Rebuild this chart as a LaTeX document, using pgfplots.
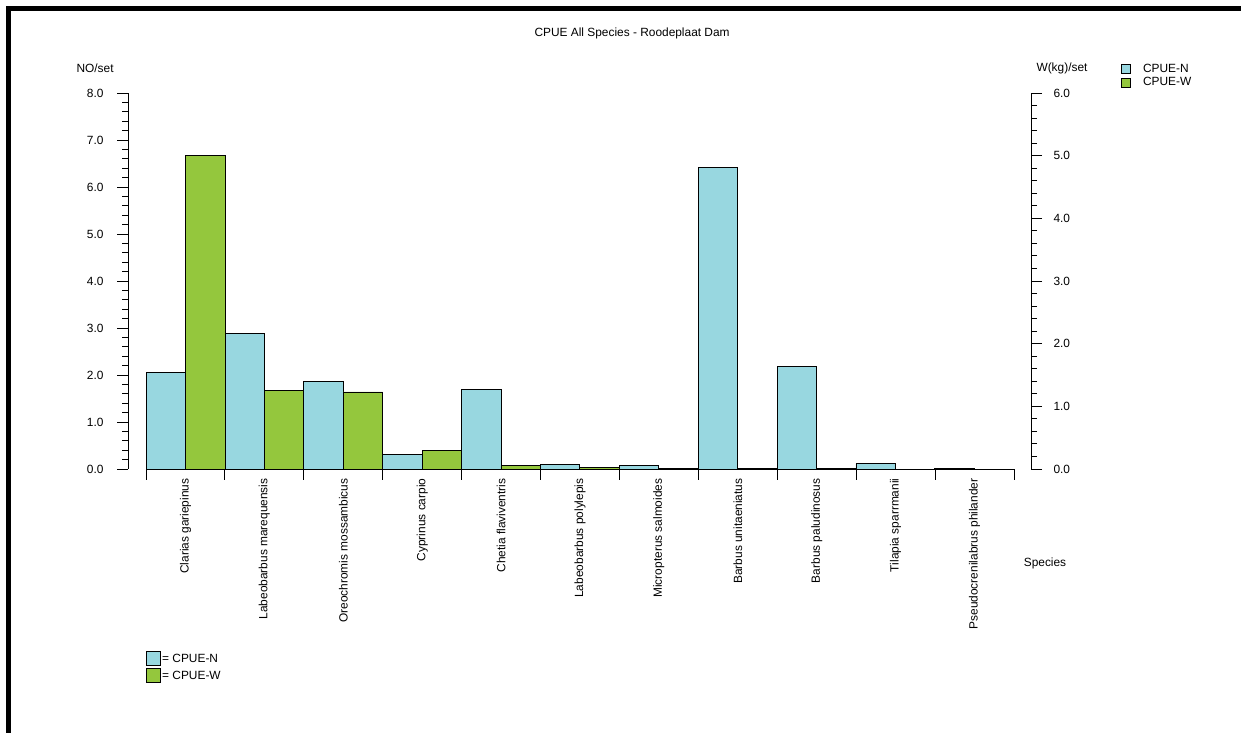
\documentclass[border=0pt]{standalone}
\usepackage{pgfplots}
\pgfplotsset{compat=1.18}
\usepackage{fontspec}
\setmainfont{Liberation Sans}
\definecolor{cpueN}{RGB}{152,215,224}
\definecolor{cpueW}{RGB}{148,199,61}
\pgfplotsset{
  myax/.style={scale only axis, height=376pt, ymin=0,
    tick align=outside, major tick length=11pt, minor tick length=6pt,
    every tick/.style={black, line width=0.9pt},
    axis line style={black, line width=0.9pt},
    /pgf/number format/assume math mode=true,
    yticklabel style={/pgf/number format/.cd, fixed, fixed zerofill, precision=1},
    minor y tick num=4},
  smallsq/.style={legend image code/.code={\draw[##1, draw=black, line width=0.8pt] (0pt,-4.5pt) rectangle (9pt,4.5pt);}},
  bigsq/.style={legend image code/.code={\draw[##1, draw=black, line width=1pt] (0pt,-7pt) rectangle (14pt,7pt);}},
}
\begin{document}
\begin{tikzpicture}[x=1pt,y=1pt,font=\fontsize{11.9}{13.5}\selectfont]
\useasboundingbox (0,0) rectangle (1241,733);
\fill[black] (6,722) rectangle (1241,727);
\fill[black] (6,0) rectangle (11,727);

% left axis: CPUE-N
\begin{axis}[myax, at={(128pt,264pt)}, anchor=south west, width=903pt,
  xmin=-0.2284, xmax=11.2195, ymax=8,
  axis y line*=left, hide x axis,
  ytick={0,1,2,3,4,5,6,7,8},
  yticklabel shift=10pt,
  ylabel={NO/set},
  ylabel style={at={(axis description cs:-0.0365,1.0665)}, rotate=-90, anchor=center},
  legend style={at={(axis description cs:1.0997,1.081)}, anchor=north west,
    draw=none, fill=none, inner sep=0pt, row sep=2pt, column sep=11pt,
    nodes={inner sep=1pt}},
  legend cell align=left]
\addplot[ybar, bar width=0.5, bar shift=0pt, fill=cpueN, draw=black, line width=0.8pt, forget plot]
  coordinates {(0.25,2.06) (1.25,2.89) (2.25,1.87) (3.25,0.30) (4.25,1.70)
               (5.25,0.10) (6.25,0.08) (7.25,6.41) (8.25,2.19) (9.25,0.12) (10.25,0.02)};
\addlegendimage{smallsq, fill=cpueN}
\addlegendimage{smallsq, fill=cpueW}
\legend{CPUE-N, CPUE-W}
\end{axis}

% right axis: CPUE-W
\begin{axis}[myax, at={(128pt,264pt)}, anchor=south west, width=903pt,
  xmin=-0.2284, xmax=11.2195, ymax=6,
  axis y line*=right, hide x axis,
  ytick={0,1,2,3,4,5,6},
  yticklabel shift=8pt,
  ylabel={W(kg)/set},
  ylabel style={at={(axis description cs:1.0343,1.0665)}, rotate=-90, anchor=center}]
\addplot[ybar, bar width=0.5, bar shift=0pt, fill=cpueW, draw=black, line width=0.8pt]
  coordinates {(0.75,5.00) (1.75,1.26) (2.75,1.23) (3.75,0.29) (4.75,0.05)
               (5.75,0.03) (6.75,0.01) (7.75,0.01) (8.75,0.01)};
\end{axis}

% category axis
\begin{axis}[scale only axis, at={(146pt,264pt)}, anchor=south west,
  width=868pt, height=376pt, xmin=0, xmax=11, ymin=0, ymax=1,
  axis x line*=bottom, hide y axis,
  axis line style={black, line width=0.9pt},
  xtick={0.5,1.5,2.5,3.5,4.5,5.5,6.5,7.5,8.5,9.5,10.5},
  xticklabels={Clarias gariepinus, Labeobarbus marequensis, Oreochromis mossambicus,
    Cyprinus carpio, Chetia flaviventris, Labeobarbus polylepis, Micropterus salmoides,
    Barbus unitaeniatus, Barbus paludinosus, Tilapia sparrmanii, Pseudocrenilabrus philander},
  major tick length=0pt,
  minor xtick={0,1,2,3,4,5,6,7,8,9,10,11},
  minor tick length=11pt, tick align=outside,
  every tick/.style={black, line width=0.9pt},
  xticklabel style={rotate=90, anchor=east},
  xticklabel shift=6pt,
  title={CPUE All Species - Roodeplaat Dam},
  title style={at={(axis description cs:0.56,1.162)}, anchor=center, yshift=-7pt},
  xlabel={Species},
  xlabel style={at={(axis description cs:1.0357,-0.252)}, anchor=center},
  legend style={at={(axis description cs:0,-0.484)}, anchor=north west,
    draw=none, fill=none, inner sep=0pt, row sep=2pt,
    nodes={inner sep=1pt}},
  legend cell align=left]
\addlegendimage{bigsq, fill=cpueN}
\addlegendimage{bigsq, fill=cpueW}
\legend{= CPUE-N, = CPUE-W}
\end{axis}
\end{tikzpicture}
\end{document}
